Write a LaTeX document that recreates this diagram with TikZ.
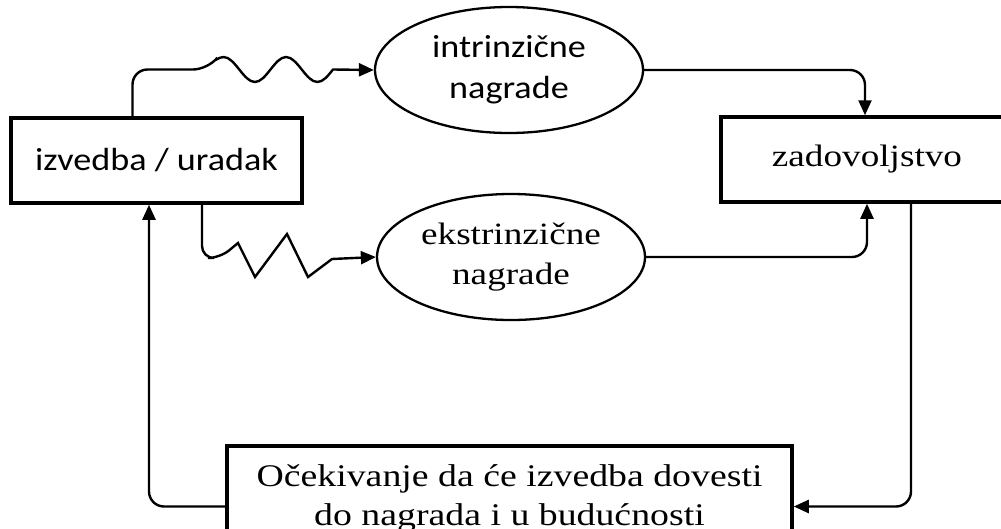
\documentclass[tikz,border=0pt]{standalone}
\usepackage{fontspec}
\setmainfont{Liberation Serif}
\newfontfamily\sansx[FakeStretch=1.13]{Carlito}
\newfontfamily\serifx[FakeStretch=1.2]{Liberation Serif}
\usetikzlibrary{arrows.meta,shapes.geometric}
\begin{document}
\begin{tikzpicture}[x=1pt,y=-1pt,
  box/.style={draw, line width=3.5pt, rectangle, inner sep=0pt, align=center},
  oval/.style={draw, line width=2.3pt, ellipse, inner sep=0pt, minimum width=268pt, minimum height=126pt, align=center},
  conn/.style={line width=2.4pt, -{Triangle[length=15pt,width=13pt]}},
  sansT/.style={font=\sansx\fontsize{32}{41}\selectfont},
  serifT/.style={font=\serifx\fontsize{31}{40}\selectfont},
  serifB/.style={font=\serifx\fontsize{31.5}{39}\selectfont}]
\useasboundingbox (0,0) rectangle (1001,528);

\node[box, sansT, minimum width=291pt, minimum height=85pt] (izv) at (156.5,160.5) {izvedba / uradak};
\node[box, serifT, minimum width=292pt, minimum height=85pt] (zad) at (867,159.5) {zadovoljstvo};
\node[oval, sansT] (intr) at (509,70) {intrinzične\\nagrade};
\node[oval, serifT] (ekst) at (511,257) {ekstrinzične\\nagrade};
\node[box, serifB, minimum width=565pt, minimum height=105pt] (oce) at (509.5,498.5) {Očekivanje da će izvedba dovesti\\do nagrada i u budućnosti};
\coordinate (oceR) at ([yshift=-8pt]oce.east);
\coordinate (oceL) at ([yshift=-8pt]oce.west);

\draw[conn] ([xshift=-24pt]izv.north) [rounded corners=15pt] |- (208,69.5) [sharp corners]
  sin (223.6,57) cos (239.25,69.5) sin (254.9,82) cos (270.5,69.5)
  sin (286.1,57) cos (301.75,69.5) sin (317.4,82) cos (333,69.5) -- (intr.west);
\draw[conn] ([xshift=45.5pt]izv.south) [rounded corners=12pt] |- (220,258) [sharp corners]
  -- (238,243) -- (255,277) -- (287,234) -- (308,277) -- (332,259) -- (ekst.west);
\draw[conn, rounded corners=15pt] (intr.east) -| ([xshift=-2pt]zad.north);
\draw[conn, rounded corners=15pt] (ekst.east) -| (zad.south);
\draw[conn, rounded corners=15pt] ([xshift=44pt]zad.south) |- (oceR);
\draw[conn, rounded corners=15pt] (oceL) -| ([xshift=-7.5pt]izv.south);
\end{tikzpicture}
\end{document}
